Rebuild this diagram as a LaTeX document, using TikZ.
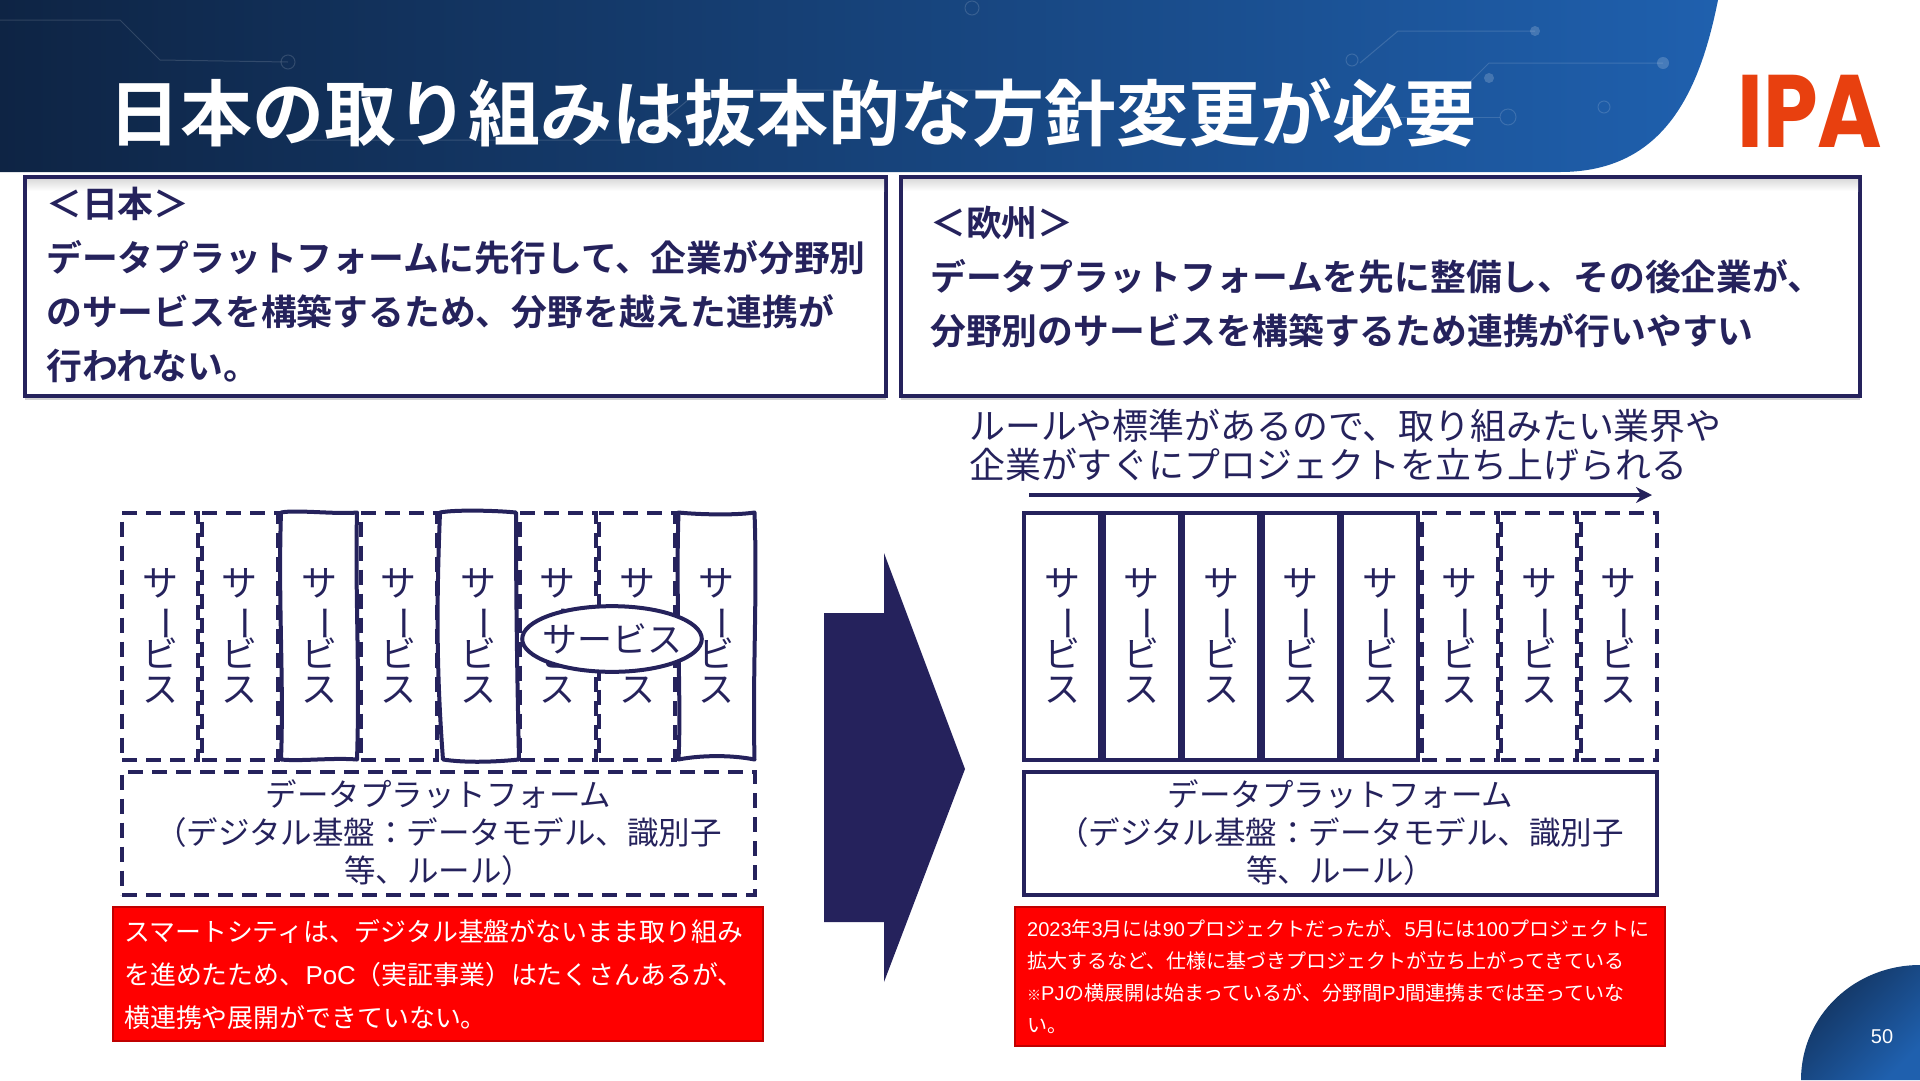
\documentclass[tikz,border=0pt]{standalone}
\usepackage{fontspec}
\usepackage{xcolor}
\usetikzlibrary{arrows.meta, positioning, shapes.geometric, shadows}
\setmainfont{Noto Sans CJK JP}[BoldFont=* Bold]
\newfontfamily\latinfont{Liberation Sans}
\newfontfamily\logofont{Poppins}
\definecolor{navy}{HTML}{25225C}
\definecolor{hdark}{HTML}{0E2444}
\definecolor{hblue}{HTML}{1F60AE}
\definecolor{logored}{HTML}{E8400F}
\definecolor{alertred}{HTML}{FF0000}
\definecolor{alertedge}{HTML}{C00000}
\newcommand{\fsz}[1]{\fontsize{#1}{#1}\selectfont}
\newcommand{\svctext}{サ\\\smash{\rotatebox[origin=c]{-90}{ー}}\\ビ\\ス}
\newcommand{\ltn}[1]{{\latinfont #1}}
\begin{document}
\begin{tikzpicture}[x=1pt, y=-1pt,
      node distance=3.5pt,
      svcbase/.style={minimum width=76pt, minimum height=247pt, inner sep=0pt, outer sep=0pt, align=center,
                  text=navy, font=\fsz{36}, text width=76pt, execute at begin node={\baselineskip=35.5pt}},
      svc/.style={svcbase, draw=navy, line width=4pt},
      svcdash/.style={svc, dash pattern=on 15pt off 9pt},
      svcloose/.style={svcbase},
      wob/.style={draw=navy, line width=4pt, line join=round},
      platform/.style={draw=navy, line width=4pt, minimum width=633pt, minimum height=123pt, inner sep=0pt, outer sep=0pt,
                  align=center, text=navy, font=\fsz{31.5}, text width=633pt, execute at begin node={\baselineskip=38pt}},
      topbox/.style={draw=navy, line width=4.5pt, fill=white, anchor=north west, inner sep=0pt, outer sep=0pt,
                  drop shadow={shadow xshift=0pt, shadow yshift=-4pt, fill=black, opacity=0.18}},
      toptext/.style={anchor=west, inner sep=0pt, text=navy, font=\fsz{35.8}\bfseries},
      redbox/.style={draw=alertedge, line width=2pt, fill=alertred, anchor=north west, inner sep=0pt, outer sep=0pt},
      redtext/.style={anchor=west, inner sep=0pt, text=white},
      lead/.style={anchor=west, inner sep=0pt, text=navy, font=\fsz{35.9}},
      trace/.style={draw=white, opacity=0.14, line width=1pt},
      arr/.style={-{Stealth[length=16pt, width=16pt]}, draw=navy, line width=4pt}]
    \useasboundingbox (0,0) rectangle (1920,1080);
    % header band
    \shade[left color=hdark, right color=hblue]
      (0,0) -- (1718,0) .. controls (1700,90) and (1665,172) .. (1560,172) -- (0,172) -- cycle;
    % faint circuit traces
    \draw[trace] (1360,63) -- (1398,31) -- (1535,31);
    \draw[trace] (1462,90) -- (1489,63) -- (1663,63);
    \draw[trace] (1345,117) -- (1500,117);
    \draw[trace] (972,8) circle (7) (1352,60) circle (6) (1508,117) circle (8) (1604,107) circle (6) (288,62) circle (7);
    \fill[white, opacity=0.18] (1535,31) circle (5) (1663,63) circle (6) (1489,78) circle (5);
    \draw[trace] (0,20) -- (120,20) -- (160,60) -- (288,62);
    \draw[trace] (300,140) -- (640,140) -- (700,90) -- (1000,90);
    \node[anchor=west, inner sep=0pt, text=white, font=\fsz{72}\bfseries] (title) at (108,113) {日本の取り組みは抜本的な方針変更が必要};
    \node[anchor=base, inner sep=0pt, text=logored, font=\logofont\fsz{103}\bfseries] (logo) at (1810,147) {\scalebox{0.85}[1]{IPA}};
    % page number corner
    \shade[left color=hdark!80!hblue, right color=hblue, shading angle=45]
      (1801,1080) .. controls (1801,1015) and (1855,965) .. (1920,965) -- (1920,1080) -- cycle;
    \node[inner sep=0pt, text=white, font=\latinfont\fsz{20}] (pageno) at (1882,1037) {50};

    % top statements
    \node[topbox, minimum width=861pt, minimum height=219pt] (jpbox) at (25,177) {};
    \node[topbox, minimum width=959pt, minimum height=219pt] (eubox) at (901,177) {};
    \shade[top color=black!14, bottom color=white] ([shift={(2,2)}]jpbox.north west) rectangle ([shift={(-2,14)}]jpbox.north east);
    \shade[top color=black!14, bottom color=white] ([shift={(2,2)}]eubox.north west) rectangle ([shift={(-2,14)}]eubox.north east);
    \node[toptext] (jp1) at (46,204) {＜日本＞};
    \node[toptext] (jp2) at (46,258) {データプラットフォームに先行して、企業が分野別};
    \node[toptext] (jp3) at (46,312) {のサービスを構築するため、分野を越えた連携が};
    \node[toptext] (jp4) at (46,366) {行われない。};
    \node[toptext] (eu1) at (930,223) {＜欧州＞};
    \node[toptext] (eu2) at (930,277) {データプラットフォームを先に整備し、その後企業が、};
    \node[toptext] (eu3) at (930,331) {分野別のサービスを構築するため連携が行いやすい};

    % left stack
    \node[svcdash] (ls1) at (160,636) {\svctext};
    \node[svcdash, right=of ls1] (ls2) {\svctext};
    \node[svcloose, right=of ls2] (ls3) {\svctext};
    \node[svcdash, right=of ls3] (ls4) {\svctext};
    \node[svcloose, right=of ls4] (ls5) {\svctext};
    \node[svcdash, right=of ls5] (ls6) {\svctext};
    \node[svcdash, right=of ls6] (ls7) {\svctext};
    \node[svcloose, right=of ls7] (ls8) {\svctext};
    \draw[wob] (ls3.north west) .. controls +(15,-3) and +(-20,2) .. (ls3.north east)
      .. controls +(-2,80) and +(3,-90) .. (ls3.south east) .. controls +(-25,-2) and +(20,2) .. (ls3.south west)
      .. controls +(3,-80) and +(-3,90) .. cycle;
    \draw[wob] (ls5.north west) .. controls +(15,-3) and +(-20,-2) .. (ls5.north east)
      .. controls +(0,80) and +(-2,-90) .. ([xshift=3pt]ls5.south east) .. controls +(-30,3) and +(20,3) .. ([xshift=3pt]ls5.south west)
      .. controls +(-6,-80) and +(-4,100) .. cycle;
    \draw[wob] (ls8.north west) .. controls +(20,2) and +(-20,3) .. (ls8.north east)
      .. controls +(3,80) and +(-2,-90) .. (ls8.south east) .. controls +(-25,-5) and +(20,-4) .. (ls8.south west)
      .. controls +(3,-60) and +(-3,90) .. cycle;
    \node[ellipse, draw=navy, line width=4pt, fill=white, inner xsep=-6.5pt, inner ysep=8pt, text=navy, font=\fsz{35}] (floatsvc) at (612,639) {サービス};
    \node[platform, dash pattern=on 15pt off 9pt, below=12pt of ls1.south west, anchor=north west] (lplat) {データプラットフォーム\\（デジタル基盤：データモデル、識別子\\等、ルール）};
    \node[redbox, minimum width=650pt, minimum height=134pt] (lred) at (113,907) {};
    \node[redtext, font=\fsz{25.9}] (lr1) at (124,932) {スマートシティは、デジタル基盤がないまま取り組み};
    \node[redtext, font=\fsz{25.9}] (lr2) at (124,975) {を進めたため、\ltn{PoC}（実証事業）はたくさんあるが、};
    \node[redtext, font=\fsz{25.9}] (lr3) at (124,1018) {横連携や展開ができていない。};

    % big arrow between the stacks
    \fill[navy] (824,613) -- (884,613) -- (884,553) -- (965,769) -- (884,982) -- (884,922) -- (824,922) -- cycle;

    % right stack
    \node[lead] (lead1) at (969,426) {ルールや標準があるので、取り組みたい業界や};
    \node[lead] (lead2) at (969,465) {企業がすぐにプロジェクトを立ち上げられる};
    \coordinate (growa) at (1029,495);
    \coordinate (growb) at (1652,495);
    \draw[arr] (growa) -- (growb);
    \node[svc] (rs1) at (1062,636) {\svctext};
    \node[svc, right=of rs1] (rs2) {\svctext};
    \node[svc, right=of rs2] (rs3) {\svctext};
    \node[svc, right=of rs3] (rs4) {\svctext};
    \node[svc, right=of rs4] (rs5) {\svctext};
    \node[svcdash, right=of rs5] (rs6) {\svctext};
    \node[svcdash, right=of rs6] (rs7) {\svctext};
    \node[svcdash, right=of rs7] (rs8) {\svctext};
    \node[platform, below=12pt of rs1.south west, anchor=north west] (rplat) {データプラットフォーム\\（デジタル基盤：データモデル、識別子\\等、ルール）};
    \node[redbox, minimum width=650pt, minimum height=139pt] (rred) at (1015,907) {};
    \node[redtext, font=\fsz{20}] (rr1) at (1027,929) {\ltn{2023}年\ltn{3}月には\ltn{90}プロジェクトだったが、\ltn{5}月には\ltn{100}プロジェクトに};
    \node[redtext, font=\fsz{20}] (rr2) at (1027,961) {拡大するなど、仕様に基づきプロジェクトが立ち上がってきている};
    \node[redtext, font=\fsz{20}] (rr3) at (1027,993) {{\fsz{14}※}\ltn{PJ}の横展開は始まっているが、分野間\ltn{PJ}間連携までは至っていな};
    \node[redtext, font=\fsz{20}] (rr4) at (1027,1026) {い。};
  \end{tikzpicture}
\end{document}
